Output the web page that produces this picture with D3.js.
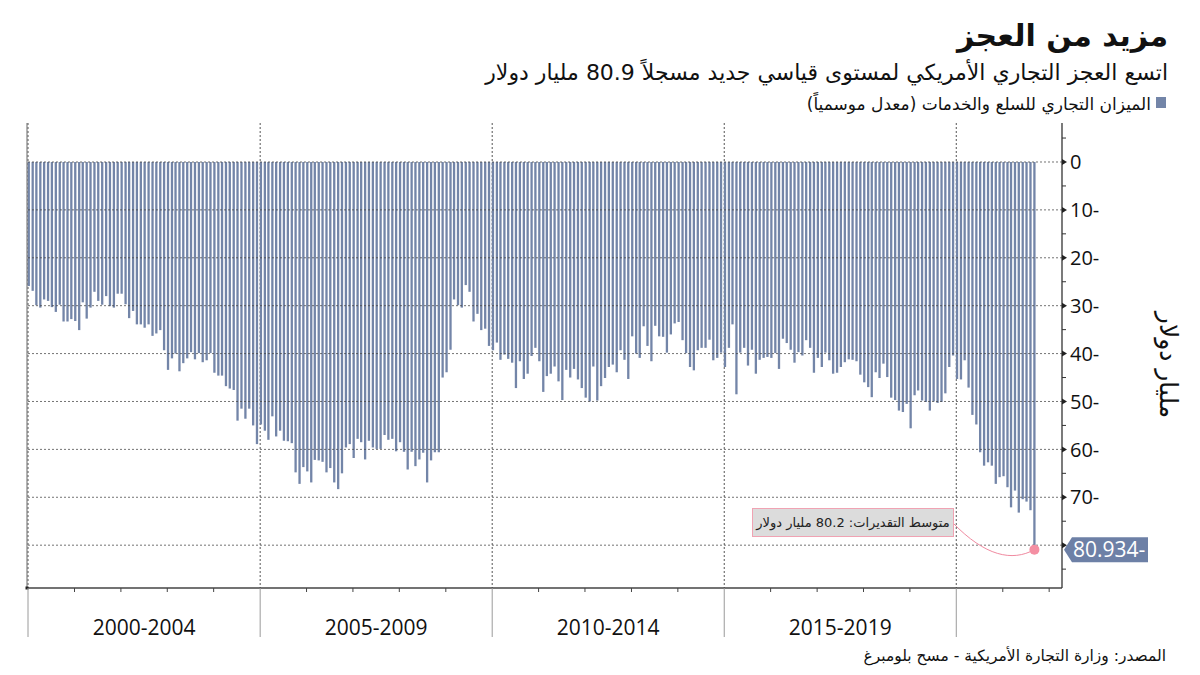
<!DOCTYPE html>
<html><head><meta charset="utf-8">
<script src="https://cdn.jsdelivr.net/npm/d3@7"></script>
<style>body{margin:0;background:#fff}</style>
</head><body>
<svg id="chart" width="1200" height="675"></svg>
<script>
// ---- data (US goods & services trade balance, bn USD, monthly from Jan 2000) ----
const startDate = new Date(2000, 0, 1);
const balance = [
-25.9,-26.9,-29.9,-30.4,-28.7,-29.0,-30.3,-31.3,-29.8,-33.3,-33.3,-32.8,
-33.2,-35.1,-29.3,-32.7,-30.4,-27.1,-29.0,-29.8,-28.0,-30.1,-30.4,-27.5,
-27.5,-29.7,-32.6,-31.1,-33.9,-33.9,-34.6,-33.9,-36.3,-35.8,-35.1,-39.3,
-43.4,-41.0,-40.0,-43.7,-42.0,-41.0,-39.7,-41.2,-39.9,-41.8,-41.4,-39.9,
-44.0,-44.6,-44.6,-46.8,-47.3,-47.6,-54.0,-51.5,-53.6,-51.5,-55.0,-58.9,
-54.8,-56.1,-58.0,-53.1,-57.3,-56.1,-58.2,-58.3,-58.7,-64.8,-67.2,-63.7,
-64.6,-66.9,-62.2,-62.3,-62.6,-64.8,-63.9,-66.9,-68.3,-65.0,-59.6,-58.9,
-61.8,-57.8,-58.5,-62.1,-58.2,-59.6,-59.9,-59.9,-57.0,-58.0,-57.8,-60.4,
-58.5,-60.5,-64.2,-60.5,-63.5,-62.1,-60.7,-66.9,-62.3,-60.6,-60.6,-45.0,
-43.9,-39.2,-28.7,-29.9,-30.4,-25.7,-27.1,-33.3,-31.7,-35.1,-34.8,-38.4,
-39.3,-37.7,-41.3,-40.2,-41.1,-41.9,-47.2,-41.6,-45.3,-44.2,-40.5,-38.8,
-41.6,-48.0,-44.7,-44.2,-42.7,-45.8,-49.7,-43.4,-45.0,-43.2,-45.4,-47.2,
-49.2,-50.0,-42.7,-49.8,-46.8,-45.1,-42.8,-42.3,-43.9,-39.3,-41.3,-45.3,
-36.4,-40.0,-40.9,-34.3,-38.4,-41.6,-34.2,-36.4,-36.5,-39.8,-36.0,-33.7,
-33.4,-37.2,-39.9,-42.8,-43.5,-39.3,-38.8,-38.8,-37.1,-41.4,-40.9,-39.8,
-42.8,-38.8,-33.9,-48.5,-39.8,-38.8,-42.5,-39.2,-44.2,-41.3,-40.9,-40.7,
-40.9,-39.9,-43.2,-36.9,-37.8,-39.2,-41.9,-39.7,-40.4,-37.2,-38.8,-44.0,
-40.9,-42.8,-39.8,-41.4,-44.2,-44.0,-42.8,-41.8,-41.2,-41.3,-41.6,-44.4,
-46.0,-47.0,-49.1,-43.9,-45.1,-42.1,-44.9,-49.2,-49.7,-51.9,-52.2,-50.5,
-55.6,-48.7,-47.7,-49.8,-50.1,-51.9,-50.0,-50.3,-50.1,-48.3,-42.8,-40.4,
-45.3,-45.4,-41.4,-47.1,-52.8,-54.8,-60.6,-63.4,-62.7,-63.4,-67.2,-65.8,
-65.6,-67.9,-72.1,-68.6,-73.2,-70.4,-70.9,-72.7,-80.934
];
const periodLabels = ["2000-2004", "2005-2009", "2010-2014", "2015-2019"];
const periodYears = [2000, 2005, 2010, 2015, 2020];
const yTickValues = [0, -10, -20, -30, -40, -50, -60, -70, -80];
const lastValueLabel = "80.934-";
const estimateNote = "متوسط التقديرات: 80.2 مليار دولار";
const titleText = "مزيد من العجز";
const subtitleText = "اتسع العجز التجاري الأمريكي لمستوى قياسي جديد مسجلاً 80.9 مليار دولار";
const legendText = "الميزان التجاري للسلع والخدمات (معدل موسمياً)";
const yTitle = "مليار دولار";
const sourceText = "المصدر: وزارة التجارة الأمريكية - مسح بلومبرغ";

// ---- layout ----
const svg = d3.select("#chart");
const L = 28, R = 1062, T = 123, B = 588;
const barColor = "#7385a8";
const arabicFont = "'DejaVu Sans', 'Noto Sans', sans-serif";
const numFont = "'Open Sans', 'Noto Sans', sans-serif";

const x = d3.scaleTime().domain([startDate, new Date(2022, 3, 12)]).range([L, R]);
const y = d3.scaleLinear().domain([8.14, -88.94]).range([T, B]);

const data = balance.map((v, i) => ({date: new Date(2000, i, 1), v}));

// vertical period gridlines
svg.append("g").selectAll("line").data(periodYears).join("line")
  .attr("x1", d => x(new Date(d, 0, 1))).attr("x2", d => x(new Date(d, 0, 1)))
  .attr("y1", T).attr("y2", B)
  .attr("stroke", "#555").attr("stroke-width", 1).attr("stroke-dasharray", "2,2");

// bars
svg.append("g").selectAll("rect").data(data).join("rect")
  .attr("x", d => x(d.date) - 0.4)
  .attr("width", 2.3)
  .attr("y", d => y(0))
  .attr("height", d => y(d.v) - y(0))
  .attr("fill", barColor);

// horizontal gridlines (over bars, partially transparent)
svg.append("g").selectAll("line").data(yTickValues).join("line")
  .attr("x1", L).attr("x2", R)
  .attr("y1", d => y(d)).attr("y2", d => y(d))
  .attr("stroke", "#444").attr("stroke-opacity", 0.75)
  .attr("stroke-width", 1).attr("stroke-dasharray", "2,2");

// left border
svg.append("line").attr("x1", L - 1).attr("x2", L - 1).attr("y1", T).attr("y2", B)
  .attr("stroke", "#666").attr("stroke-width", 1);

// bottom axis
svg.append("line").attr("x1", L - 1).attr("x2", R).attr("y1", B).attr("y2", B)
  .attr("stroke", "#444").attr("stroke-width", 1.3);
svg.append("rect").attr("x", L - 2.5).attr("y", B - 1.5).attr("width", 3).attr("height", 3).attr("fill", "#222");
const yearTicks = d3.range(2001, 2023).filter(yr => yr % 5 !== 0);
svg.append("g").selectAll("line").data(yearTicks).join("line")
  .attr("x1", d => x(new Date(d, 0, 1))).attr("x2", d => x(new Date(d, 0, 1)))
  .attr("y1", B).attr("y2", B + 4).attr("stroke", "#444").attr("stroke-width", 1);
svg.append("g").selectAll("line").data(periodYears).join("line")
  .attr("x1", d => x(new Date(d, 0, 1))).attr("x2", d => x(new Date(d, 0, 1)))
  .attr("y1", B).attr("y2", 637).attr("stroke", "#9a9a9a").attr("stroke-width", 1);
svg.append("g").selectAll("text").data(periodLabels).join("text")
  .attr("x", (d, i) => (x(new Date(periodYears[i], 0, 1)) + x(new Date(periodYears[i + 1], 0, 1))) / 2)
  .attr("y", 635).attr("text-anchor", "middle")
  .attr("font-family", numFont).attr("font-size", 21).attr("fill", "#111")
  .text(d => d);

// right axis
svg.append("line").attr("x1", R).attr("x2", R).attr("y1", T).attr("y2", B)
  .attr("stroke", "#333").attr("stroke-width", 1.3);
const minorTicks = d3.range(5, -90, -10);
svg.append("g").selectAll("line").data(minorTicks).join("line")
  .attr("x1", R).attr("x2", R + 4).attr("y1", d => y(d)).attr("y2", d => y(d))
  .attr("stroke", "#333").attr("stroke-width", 1);
svg.append("g").selectAll("path").data(yTickValues).join("path")
  .attr("d", d => `M${R},${y(d) - 3}L${R + 5},${y(d)}L${R},${y(d) + 3}Z`)
  .attr("fill", "#222");
// the -80 label is covered by the last-value tag in the reference
svg.append("g").selectAll("text").data(yTickValues.filter(d => d > -80)).join("text")
  .attr("x", R + 8).attr("y", d => y(d)).attr("dy", "0.36em")
  .attr("font-family", numFont).attr("font-size", 20).attr("fill", "#111")
  .text(d => d === 0 ? "0" : `${Math.abs(d)}-`);

// y title
svg.append("text").attr("transform", `translate(1160,365) rotate(90)`)
  .attr("text-anchor", "middle").attr("direction", "rtl")
  .attr("font-family", arabicFont).attr("font-size", 25).attr("fill", "#111")
  .text(yTitle);

// annotation for last value
const last = data[data.length - 1];
const lx = x(last.date) + 0.75, ly = y(last.v);
svg.append("path")
  .attr("d", `M953,523 C985,556 1012,562 ${lx},${ly}`)
  .attr("fill", "none").attr("stroke", "#f08aa0").attr("stroke-width", 1);
svg.append("rect").attr("x", 752.5).attr("y", 508.5).attr("width", 201).attr("height", 28)
  .attr("fill", "#dcdcdc").attr("stroke", "#f0a3b3").attr("stroke-width", 1);
svg.append("text").attr("x", 853).attr("y", 527).attr("text-anchor", "middle").attr("direction", "rtl")
  .attr("font-family", arabicFont).attr("font-size", 13).attr("fill", "#222")
  .text(estimateNote);
svg.append("circle").attr("cx", lx).attr("cy", ly).attr("r", 5).attr("fill", "#f48fa3");

// value tag
svg.append("path")
  .attr("d", `M${R + 2},${ly}L${R + 10},${ly - 12.5}L1148,${ly - 12.5}L1148,${ly + 12.5}L${R + 10},${ly + 12.5}Z`)
  .attr("fill", "#6d80a6");
svg.append("text").attr("x", 1073).attr("y", ly).attr("dy", "0.36em")
  .attr("font-family", numFont).attr("font-size", 21).attr("fill", "#fff")
  .text(lastValueLabel);

// titles
svg.append("text").attr("x", 1168).attr("y", 46).attr("direction", "rtl").attr("text-anchor", "start")
  .attr("font-family", arabicFont).attr("font-size", 30).attr("font-weight", "bold").attr("fill", "#111")
  .text(titleText);
svg.append("text").attr("x", 1168).attr("y", 80).attr("direction", "rtl").attr("text-anchor", "start")
  .attr("font-family", arabicFont).attr("font-size", 22).attr("fill", "#111")
  .text(subtitleText);
svg.append("rect").attr("x", 1156).attr("y", 97).attr("width", 10).attr("height", 11).attr("fill", barColor);
svg.append("text").attr("x", 1151).attr("y", 110).attr("direction", "rtl").attr("text-anchor", "start")
  .attr("font-family", arabicFont).attr("font-size", 17).attr("fill", "#111")
  .text(legendText);
svg.append("text").attr("x", 1166).attr("y", 661).attr("direction", "rtl").attr("text-anchor", "start")
  .attr("font-family", arabicFont).attr("font-size", 15.5).attr("fill", "#111")
  .text(sourceText);
</script>
</body></html>
